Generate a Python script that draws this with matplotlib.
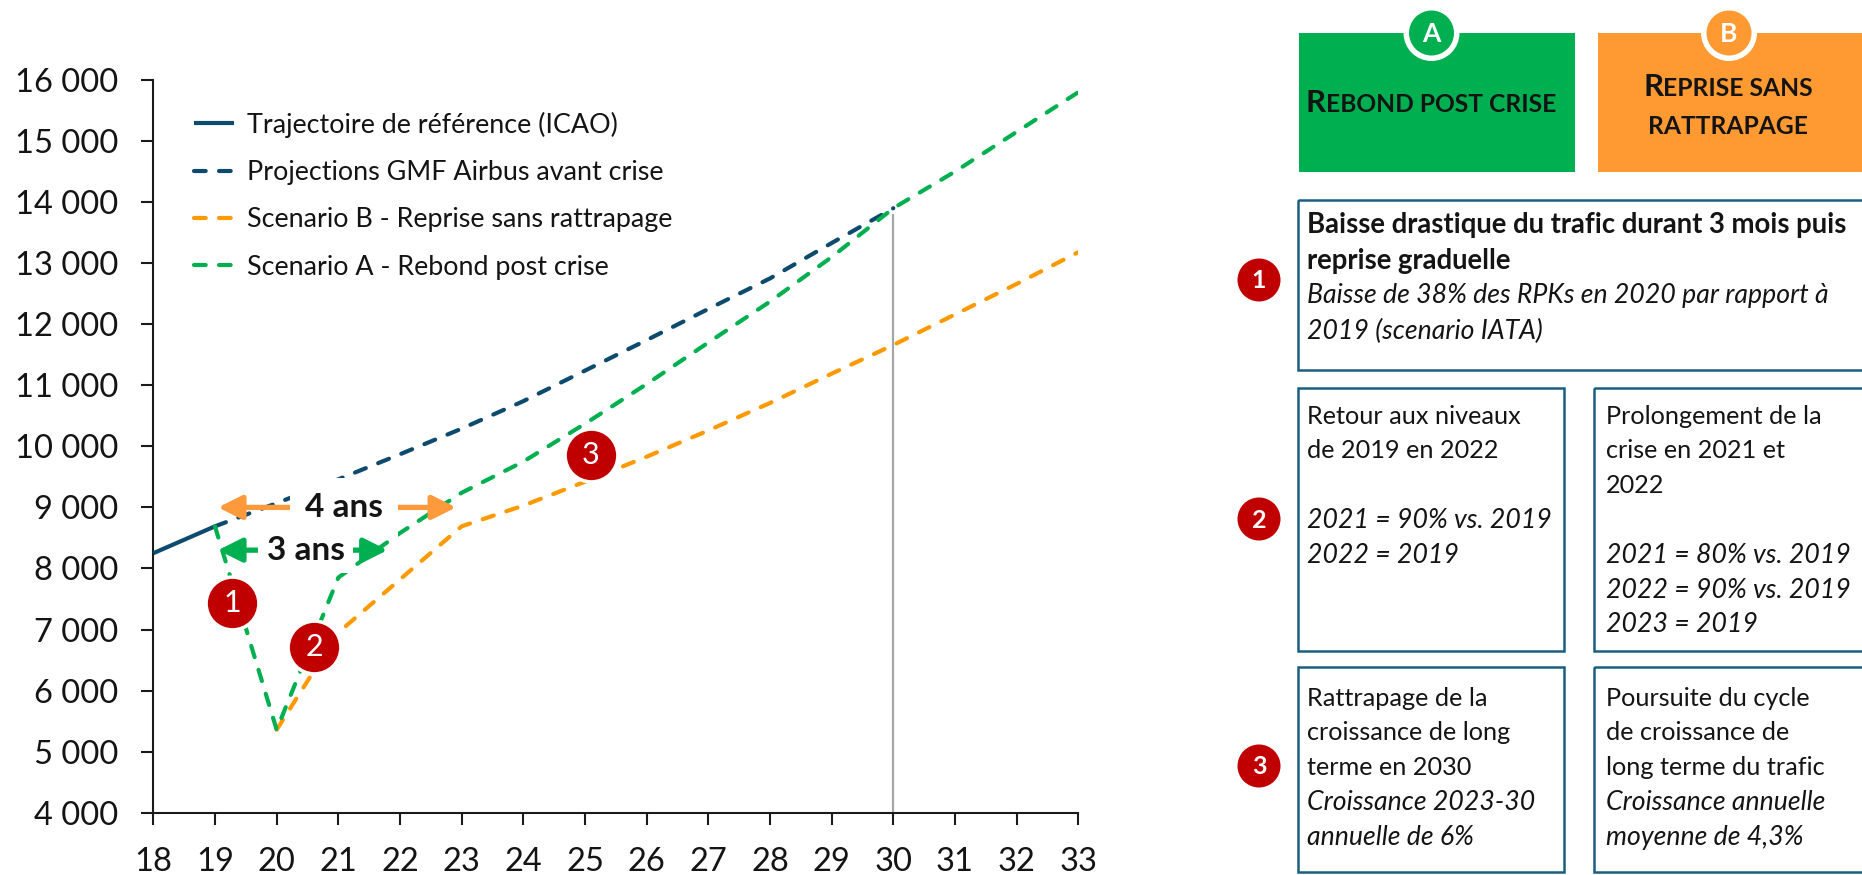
import matplotlib
matplotlib.use("Agg")
import matplotlib.pyplot as plt
from matplotlib.patches import Rectangle, Circle

plt.rcParams['font.family'] = ['Lato', 'DejaVu Sans']

# ---- data (RPK, milliards) ----
years_ref = [18, 19]
traffic_ref = [8250, 8690]

years_gmf = [19, 20, 21, 22, 23, 24, 25, 26, 27, 28, 29, 30]
traffic_gmf = [8690, 9070, 9460, 9870, 10290, 10740, 11240, 11740, 12250, 12750, 13330, 13900]

years_b = [20, 21, 22, 23, 24, 25, 26, 27, 28, 29, 30, 31, 32, 33]
traffic_b = [5360, 6950, 7820, 8690, 9030, 9420, 9830, 10260, 10710, 11190, 11660, 12160, 12660, 13180]

years_a = [19, 20, 21, 22, 23, 24, 25, 26, 27, 28, 29, 30, 31, 32, 33]
traffic_a = [8690, 5360, 7850, 8580, 9240, 9750, 10370, 11020, 11700, 12370, 13100, 13900, 14500, 15150, 15800]

series_labels = ["Trajectoire de référence (ICAO)",
                 "Projections GMF Airbus avant crise",
                 "Scenario B - Reprise sans rattrapage",
                 "Scenario A - Rebond post crise"]

x_ticks = list(range(18, 34))
x_tick_labels = [str(y) for y in x_ticks]
y_ticks = [4000, 5000, 6000, 7000, 8000, 9000, 10000, 11000, 12000, 13000, 14000, 15000, 16000]
y_tick_labels = ["4 000", "5 000", "6 000", "7 000", "8 000", "9 000", "10 000",
                 "11 000", "12 000", "13 000", "14 000", "15 000", "16 000"]

horizon_year = 30
horizon_top = 13800

# numbered steps on the chart
step_x = [19.28, 20.61, 25.09]
step_y = [7440, 6706, 9860]
step_labels = ["1", "2", "3"]

# "x ans" spans : start, end, level, label x, label, box pad
span_4 = (19.05, 22.91, 9000, 21.09, "4 ans", 0.45)
span_3 = (19.05, 21.80, 8300, 20.47, "3 ans", 0.25)

# colours
NAVY = "#0D4B6E"
GREEN = "#00B050"
ORANGE = "#FF9900"
ORANGE_LIGHT = "#FF9A3C"
RED = "#C00000"
BORDER = "#1B5E80"
TXT = "#141414"

W, H = 1862, 875
fig = plt.figure(figsize=(W / 100, H / 100), dpi=100)
ax = fig.add_axes([153.3 / W, 1 - 812.7 / H, 925 / W, 732.7 / H])

dash = (0, (2.8, 3.2))
lw = 3.0
l_ref, = ax.plot(years_ref, traffic_ref, color=NAVY, lw=lw, solid_capstyle='butt', zorder=3)
l_gmf, = ax.plot(years_gmf, traffic_gmf, color=NAVY, lw=lw, ls=dash, dash_capstyle='round', zorder=3)
l_b, = ax.plot(years_b, traffic_b, color=ORANGE, lw=lw, ls=dash, dash_capstyle='round', zorder=3)
l_a, = ax.plot(years_a, traffic_a, color=GREEN, lw=lw, ls=dash, dash_capstyle='round', zorder=3)

ax.vlines(horizon_year, y_ticks[0], horizon_top, color="#A6A6A6", lw=1.6, zorder=1)

ax.set_xlim(18, 33)
ax.set_ylim(4000, 16000)
ax.set_xticks(x_ticks)
ax.set_xticklabels(x_tick_labels)
ax.set_yticks(y_ticks)
ax.set_yticklabels(y_tick_labels)
ax.tick_params(axis='both', direction='out', length=8.5, width=1.5, colors="#1a1a1a",
               labelsize=23.5, labelcolor=TXT)
ax.tick_params(axis='x', pad=16)
ax.tick_params(axis='y', pad=17)
for s in ['top', 'right']:
    ax.spines[s].set_visible(False)
for s in ['left', 'bottom']:
    ax.spines[s].set_linewidth(1.5)
    ax.spines[s].set_color("#1a1a1a")

leg = ax.legend([l_ref, l_gmf, l_b, l_a], series_labels, loc='upper left',
                bbox_to_anchor=(0.0436, 0.957), frameon=False, fontsize=19.4,
                handlelength=1.5, handletextpad=0.48, labelspacing=0.83,
                borderpad=0, borderaxespad=0)
for t in leg.get_texts():
    t.set_color(TXT)

# spans with arrows
for (x0, x1, lvl, xl, lab, pad), col in [(span_4, ORANGE_LIGHT), (span_3, GREEN)]:
    ax.annotate('', xy=(x1, lvl), xytext=(x0, lvl),
                arrowprops=dict(arrowstyle='<|-|>,head_length=0.8,head_width=0.4',
                                color=col, lw=3.8, mutation_scale=18,
                                shrinkA=0, shrinkB=0), zorder=4)
    ax.text(xl, lvl, lab, ha='center', va='center', fontsize=24, fontweight='bold',
            color=TXT, zorder=5,
            bbox=dict(boxstyle='square,pad=%s' % pad, fc='white', ec='none'))

# numbered steps
ax.plot(step_x, step_y, 'o', ms=38, mfc=RED, mec='white', mew=2.5, zorder=6, clip_on=False)
for x, y, s in zip(step_x, step_y, step_labels):
    ax.text(x, y, s, ha='center', va='center', fontsize=22, color='white', zorder=7)

# ---- right-hand panel (pixel coordinates) ----
pan = fig.add_axes([0, 0, 1, 1])
pan.set_xlim(0, W)
pan.set_ylim(H, 0)
pan.axis('off')
pan.patch.set_visible(False)

renderer = fig.canvas.get_renderer()


def small_caps(xc, y, parts):
    texts = []
    for s, size in parts:
        t = pan.text(0, y, s, fontsize=size, fontweight='bold', color=TXT,
                     ha='left', va='baseline')
        texts.append(t)
    widths = [t.get_window_extent(renderer).width for t in texts]
    x = xc - sum(widths) / 2
    for t, w in zip(texts, widths):
        t.set_x(x)
        x += w


def badge(xc, yc, letter, col):
    pan.add_patch(Circle((xc, yc), 28, fc='white', ec='none'))
    pan.add_patch(Circle((xc, yc), 22.5, fc=col, ec='none'))
    pan.text(xc, yc + 1, letter, ha='center', va='center', fontsize=19,
             fontweight='bold', color='white')


pan.add_patch(Rectangle((1299, 33), 276, 139, fc=GREEN, ec='none'))
pan.add_patch(Rectangle((1598, 33), 280, 139, fc="#FF9A33", ec='none'))
badge(1431.5, 33, "A", GREEN)
badge(1729, 33, "B", "#FF9A33")
small_caps(1431, 112, [("R", 22.5), ("EBOND POST CRISE", 17.7)])
small_caps(1728, 96, [("R", 22.5), ("EPRISE SANS", 17.7)])
small_caps(1728, 134, [("RATTRAPAGE", 17.7)])

box_kw = dict(fc='none', ec=BORDER, lw=1.8)
pan.add_patch(Rectangle((1298, 200), 580, 170, **box_kw))
pan.add_patch(Rectangle((1298, 388), 266, 263, **box_kw))
pan.add_patch(Rectangle((1594, 388), 280, 263, **box_kw))
pan.add_patch(Rectangle((1298, 667), 266, 205, **box_kw))
pan.add_patch(Rectangle((1594, 667), 280, 205, **box_kw))


def lines(x, y0, rows, step=34.8):
    for k, (s, style) in enumerate(rows):
        if s is None:
            continue
        kw = dict(fontsize=18.2, color=TXT, ha='left', va='center')
        if style == 'b':
            kw.update(fontweight='bold', fontsize=19.8)
        elif style == 'i':
            kw.update(fontstyle='italic', fontsize=19.2)
        pan.text(x, y0 + k * step, s, **kw)


lines(1307, 225, [("Baisse drastique du trafic durant 3 mois puis", 'b'),
                  ("reprise graduelle", 'b'),
                  ("Baisse de 38% des RPKs en 2020 par rapport à", 'i'),
                  ("2019 (scenario IATA)", 'i')], step=35.5)
lines(1307, 416, [("Retour aux niveaux", 'n'), ("de 2019 en 2022", 'n'), (None, ''),
                  ("2021 = 90% vs. 2019", 'i'), ("2022 = 2019", 'i')])
lines(1606, 416, [("Prolongement de la", 'n'), ("crise en 2021 et", 'n'), ("2022", 'n'),
                  (None, ''), ("2021 = 80% vs. 2019", 'i'), ("2022 = 90% vs. 2019", 'i'),
                  ("2023 = 2019", 'i')])
lines(1307, 698, [("Rattrapage de la", 'n'), ("croissance de long", 'n'),
                  ("terme en 2030", 'n'), ("Croissance 2023-30", 'i'),
                  ("annuelle de 6%", 'i')])
lines(1606, 698, [("Poursuite du cycle", 'n'), ("de croissance de", 'n'),
                  ("long terme du trafic", 'n'), ("Croissance annuelle", 'i'),
                  ("moyenne de 4,3%", 'i')])

for yc, s in [(280, "1"), (519, "2"), (766, "3")]:
    pan.add_patch(Circle((1259, yc), 21.5, fc=RED, ec='none'))
    pan.text(1259, yc + 1, s, ha='center', va='center', fontsize=18,
             fontweight='bold', color='white')

fig.savefig("out.png", dpi=100)
